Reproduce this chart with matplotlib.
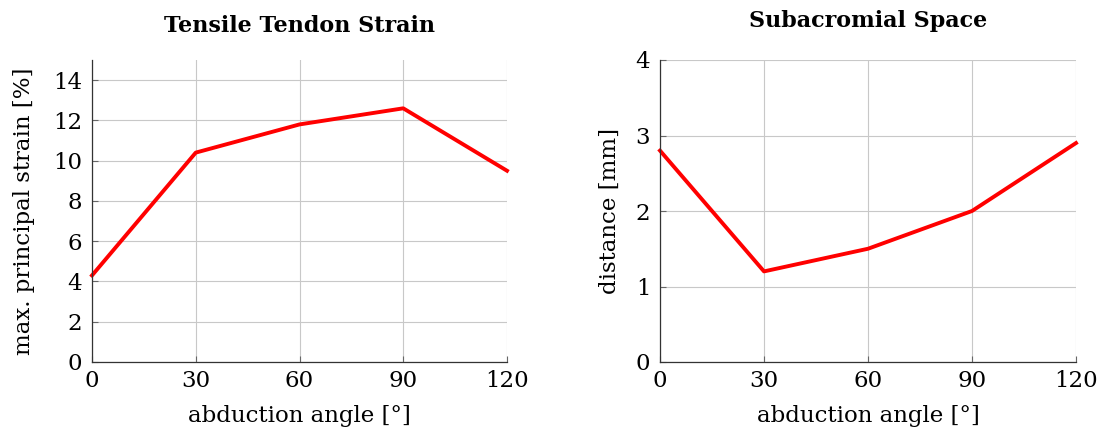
import numpy as np
import matplotlib
matplotlib.use("Agg")
import matplotlib.pyplot as plt

plt.rcParams['font.family'] = ['DejaVu Serif']

angles = [0, 30, 60, 90, 120]
strain = [4.3, 10.4, 11.8, 12.6, 9.5]
distance = [2.8, 1.2, 1.5, 2.0, 2.9]

fig = plt.figure(figsize=(11.04, 4.34), dpi=100)
ax1 = fig.add_axes([92/1104, 1-362/434, (507-92)/1104, (362-60)/434])
ax2 = fig.add_axes([660/1104, 1-362/434, (1076-660)/1104, (362-60)/434])


def style(ax, ymax, yticks):
    ax.set_xlim(0, 120)
    ax.set_ylim(0, ymax)
    ax.set_xticks(angles)
    ax.set_yticks(yticks)
    ax.grid(True, color='#c8c8c8', linewidth=0.8)
    ax.set_axisbelow(True)
    for s in ['top', 'right']:
        ax.spines[s].set_visible(False)
    for s in ['left', 'bottom']:
        ax.spines[s].set_linewidth(0.9)
        ax.spines[s].set_color('#333333')
    ax.tick_params(direction='in', length=4, width=0.8, color='#666666',
                   labelsize=16.5)
    ax.tick_params(axis='x', pad=6)
    ax.tick_params(axis='y', pad=7)
    ax.set_xlabel('abduction angle [°]', fontsize=16.5, labelpad=9)


ax1.plot(angles, strain, color='#ff0000', linewidth=2.8, clip_on=False)
style(ax1, 15, np.arange(0, 15, 2))
ax1.set_ylabel('max. principal strain [%]', fontsize=16.5, labelpad=13)
ax1.set_title('Tensile Tendon Strain', fontsize=16, fontweight='bold', pad=20)

ax2.plot(angles, distance, color='#ff0000', linewidth=2.8, clip_on=False)
style(ax2, 4, [0, 1, 2, 3, 4])
ax2.set_ylabel('distance [mm]', fontsize=16.5, labelpad=11)
ax2.set_title('Subacromial Space', fontsize=16, fontweight='bold', pad=24)

fig.savefig('out.png', dpi=100)
